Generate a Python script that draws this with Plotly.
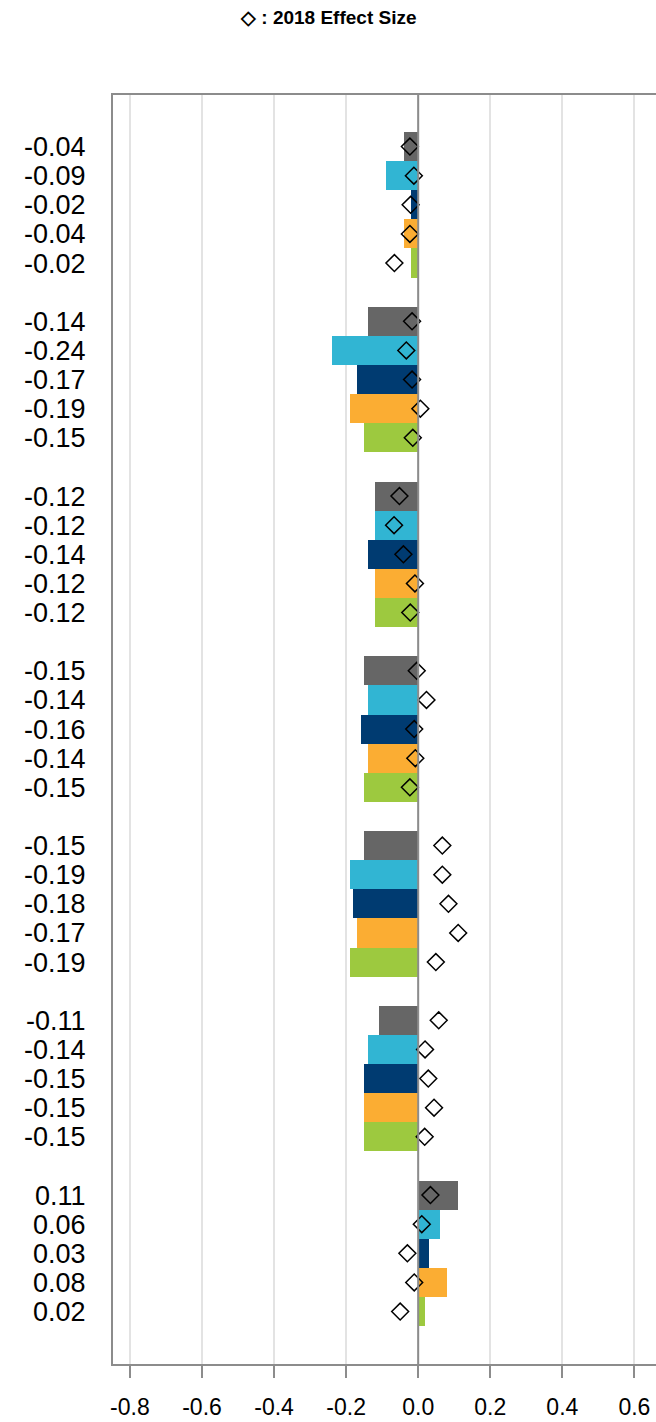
import plotly.graph_objects as go

# ---- data ----
series_colors = ["#666666", "#31B5D3", "#003B71", "#FBAD33", "#9DC93F"]
current_gray = [-0.04, -0.14, -0.12, -0.15, -0.15, -0.11, 0.11]
current_cyan = [-0.09, -0.24, -0.12, -0.14, -0.19, -0.14, 0.06]
current_navy = [-0.02, -0.17, -0.14, -0.16, -0.18, -0.15, 0.03]
current_orange = [-0.04, -0.19, -0.12, -0.14, -0.17, -0.15, 0.08]
current_green = [-0.02, -0.15, -0.12, -0.15, -0.19, -0.15, 0.02]

es2018_gray = [-0.023, -0.017, -0.052, -0.004, 0.067, 0.057, 0.034]
es2018_cyan = [-0.012, -0.033, -0.067, 0.023, 0.067, 0.019, 0.010]
es2018_navy = [-0.021, -0.017, -0.041, -0.011, 0.084, 0.028, -0.030]
es2018_orange = [-0.023, 0.006, -0.009, -0.008, 0.111, 0.044, -0.011]
es2018_green = [-0.066, -0.015, -0.022, -0.023, 0.049, 0.018, -0.050]

x_ticks = [-0.8, -0.6, -0.4, -0.2, 0.0, 0.2, 0.4, 0.6]
legend_label = "◇ : 2018 Effect Size"

current = [current_gray, current_cyan, current_navy, current_orange, current_green]
es2018 = [es2018_gray, es2018_cyan, es2018_navy, es2018_orange, es2018_green]

n_groups = len(current_gray)
n_series = len(current)
slot = n_series + 1  # one blank row between groups

def pos(g, i):
    return g * slot + i

fig = go.Figure()

tickvals, ticktext = [], []
for i, (vals, col) in enumerate(zip(current, series_colors)):
    ys = [pos(g, i) for g in range(n_groups)]
    fig.add_trace(go.Bar(
        x=vals, y=ys, orientation="h", width=1.0,
        marker=dict(color=col, line=dict(width=0)),
        showlegend=False,
    ))
    for g, v in enumerate(vals):
        tickvals.append(pos(g, i))
        ticktext.append(f"{v:.2f}")

dx, dy = [], []
for i, vals in enumerate(es2018):
    for g, v in enumerate(vals):
        dx.append(v)
        dy.append(pos(g, i))
fig.add_trace(go.Scatter(
    x=dx, y=dy, mode="markers",
    marker=dict(symbol="diamond-open", size=13, color="black", line=dict(width=1.5, color="black")),
    showlegend=False,
))

last = pos(n_groups - 1, n_series - 1)
fig.add_shape(type="line", xref="x", yref="paper", x0=0, x1=0, y0=0, y1=1,
              line=dict(color="#8C8C8C", width=2), layer="above")

fig.update_layout(
    width=656, height=1422,
    margin=dict(l=113, r=0, t=95, b=58),
    plot_bgcolor="white", paper_bgcolor="white",
    font=dict(family="Liberation Sans, Arial, sans-serif", color="black"),
    bargap=0,
    annotations=[dict(
        text="<b>" + legend_label + "</b>", xref="paper", yref="paper",
        x=(328 - 113) / 543, y=1, yshift=78, yanchor="middle", xanchor="center",
        showarrow=False, font=dict(size=19, color="black"),
    )],
)
fig.update_xaxes(
    range=[-0.847, 0.66], tickvals=x_ticks, ticktext=[f"{t:.1f}" for t in x_ticks],
    showgrid=True, gridcolor="#E3E3E3", gridwidth=2,
    zeroline=False,
    showline=True, linecolor="#8C8C8C", linewidth=2, mirror=True,
    ticks="outside", ticklen=12, tickwidth=2, tickcolor="#8C8C8C",
    tickfont=dict(size=23), ticklabelstandoff=9,
)
fig.update_yaxes(
    range=[last + 1.8, -1.77], tickvals=tickvals, ticktext=ticktext,
    showgrid=False, zeroline=False,
    showline=True, linecolor="#8C8C8C", linewidth=2,
    ticks="outside", ticklen=20, tickcolor="rgba(0,0,0,0)",
    tickfont=dict(size=27),
)

fig.write_html(
    "out.html",
    config={"displayModeBar": False},
    post_script="document.body.style.margin='0';document.body.style.overflow='hidden';",
)
